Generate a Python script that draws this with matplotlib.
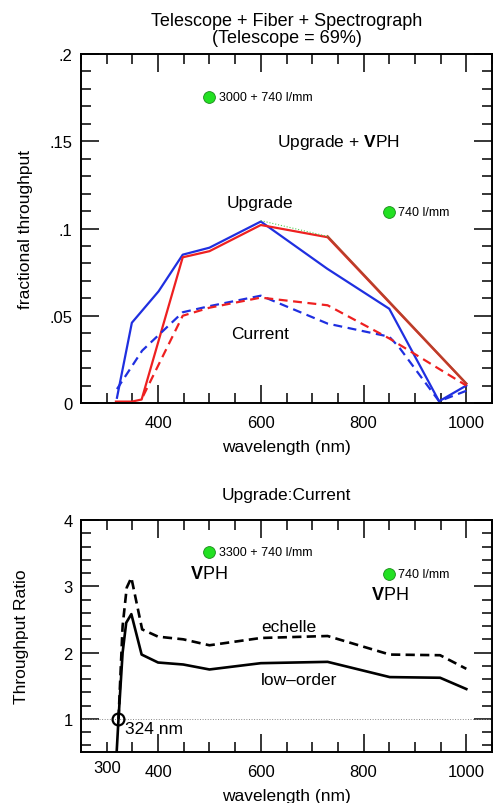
import matplotlib
matplotlib.use('Agg')
import matplotlib.pyplot as plt
from matplotlib.ticker import MultipleLocator, FixedLocator, FuncFormatter

plt.rcParams['font.family'] = ['Liberation Sans', 'DejaVu Sans']
plt.rcParams['mathtext.fontset'] = 'custom'
plt.rcParams['mathtext.rm'] = 'Liberation Sans'
plt.rcParams['mathtext.bf'] = 'Liberation Sans:bold'
for a in ('xtick', 'ytick'):
    plt.rcParams[a + '.direction'] = 'in'
    plt.rcParams[a + '.major.size'] = 13
    plt.rcParams[a + '.minor.size'] = 7
    plt.rcParams[a + '.major.width'] = 1.1
    plt.rcParams[a + '.minor.width'] = 1.1
    plt.rcParams[a + '.color'] = 'black'
    plt.rcParams[a + '.labelsize'] = 12
plt.rcParams['xtick.top'] = True
plt.rcParams['ytick.right'] = True
plt.rcParams['xtick.major.pad'] = 9
plt.rcParams['xtick.minor.pad'] = 6
plt.rcParams['ytick.major.pad'] = 6
plt.rcParams['axes.linewidth'] = 1.4

# Верхняя панель: пропускная способность телескоп + волокно + спектрограф
up_blue_wl = [320, 349, 375, 401, 448, 500, 600, 729, 850, 947, 1000]
up_blue = [0.003, 0.046, 0.055, 0.064, 0.085, 0.089, 0.104, 0.077, 0.054, 0.001, 0.010]

up_red_wl = [318, 349, 368, 448, 500, 600, 730, 1000]
up_red = [0.0008, 0.0008, 0.002, 0.0835, 0.087, 0.102, 0.095, 0.011]

vph_wl = [600, 730, 1000]
vph = [0.1045, 0.0955, 0.0112]

cur_blue_wl = [320, 369, 448, 500, 600, 730, 850, 869, 947, 1000]
cur_blue = [0.008, 0.030, 0.052, 0.0555, 0.0615, 0.0455, 0.038, 0.032, 0.001, 0.007]

cur_red_wl = [371, 448, 500, 600, 730, 850, 1000]
cur_red = [0.004, 0.050, 0.0546, 0.0604, 0.056, 0.037, 0.010]

top_pts_wl = [499, 849]
top_pts = [0.1756, 0.1097]
top_pts_lbl = ['3000 + 740 l/mm', '740 l/mm']

# Нижняя панель: отношение Upgrade:Current
low_wl = [318, 323, 331, 338, 348, 368, 400, 449, 500, 600, 730, 851, 949, 1000]
low = [0.3, 1.0, 2.0, 2.45, 2.58, 1.97, 1.85, 1.82, 1.745, 1.84, 1.86, 1.63, 1.62, 1.45]

ech_wl = [323, 331, 339, 348, 369, 400, 449, 500, 600, 730, 851, 949, 1000]
ech = [1.0, 2.4, 2.98, 3.13, 2.35, 2.24, 2.2, 2.11, 2.22, 2.25, 1.97, 1.96, 1.755]

bot_pts_wl = [499, 849]
bot_pts = [3.51, 3.19]
bot_pts_lbl = ['3300 + 740 l/mm', '740 l/mm']

red = '#ee2020'
blue = '#1f2fe0'
green = '#22e022'

fig = plt.figure(figsize=(4.93, 8.04), dpi=100)
W, H = 493.0, 804.0
ax1 = fig.add_axes([81 / W, 1 - 404 / H, 411 / W, 349 / H])
ax2 = fig.add_axes([81 / W, 1 - 753 / H, 411 / W, 232 / H])

# верхняя панель
ax1.plot(up_blue_wl, up_blue, color=blue, lw=1.6)
ax1.plot(up_red_wl, up_red, color=red, lw=1.6)
ax1.plot(vph_wl[1:], vph[1:], color='#b8402a', lw=1.6)
ax1.plot(vph_wl[:2], vph[:2], color='#55cc55', lw=0.8, ls=':')
ax1.plot(cur_blue_wl, cur_blue, color=blue, lw=1.6, ls=(0, (4, 2.5)))
ax1.plot(cur_red_wl, cur_red, color=red, lw=1.6, ls=(0, (4, 2.5)))
ax1.plot(top_pts_wl, top_pts, 'o', ms=8.5, mfc=green, mec='#1a8a1a', mew=0.6)
for x, y, t in zip(top_pts_wl, top_pts, top_pts_lbl):
    ax1.text(x + 19, y, t, fontsize=9, va='center', ha='left')
ax1.text(750, 0.1496, r'Upgrade + $\mathbf{V}$PH', fontsize=12.5, ha='center', va='center')
ax1.text(599, 0.115, 'Upgrade', fontsize=12.5, ha='center', va='center')
ax1.text(599, 0.040, 'Current', fontsize=12.5, ha='center', va='center')

ax1.set_xlim(250, 1050)
ax1.set_ylim(0, 0.2)
ax1.xaxis.set_major_locator(FixedLocator([400, 600, 800, 1000]))
ax1.xaxis.set_minor_locator(MultipleLocator(50))
ax1.yaxis.set_major_locator(FixedLocator([0, 0.05, 0.1, 0.15, 0.2]))
ax1.set_yticklabels(['0', '.05', '.1', '.15', '.2'])
ax1.yaxis.set_minor_locator(MultipleLocator(0.01))
ax1.set_xlabel('wavelength (nm)', fontsize=12.5, labelpad=6)
ax1.set_ylabel('fractional throughput', fontsize=12.5, labelpad=12)
ax1.set_title('Telescope + Fiber + Spectrograph\n(Telescope = 69%)', fontsize=13,
              linespacing=0.95, pad=9)

# нижняя панель
ax2.axhline(1.0, color='#888888', lw=0.7, ls=':')
ax2.plot(low_wl, low, color='black', lw=1.9)
ax2.plot(ech_wl, ech, color='black', lw=1.9, ls=(0, (3.5, 2)))
ax2.plot([322], [1.0], 'o', ms=8.5, mfc='none', mec='black', mew=1.6)
ax2.text(335, 0.86, '324 nm', fontsize=12.5, ha='left', va='center')
ax2.plot(bot_pts_wl, bot_pts, 'o', ms=8.5, mfc=green, mec='#1a8a1a', mew=0.6)
for x, y, t in zip(bot_pts_wl, bot_pts, bot_pts_lbl):
    ax2.text(x + 19, y, t, fontsize=9, va='center', ha='left')
ax2.text(499, 3.19, r'$\mathbf{V}$PH', fontsize=13, ha='center', va='center')
ax2.text(851, 2.88, r'$\mathbf{V}$PH', fontsize=13, ha='center', va='center')
ax2.text(654, 2.39, 'echelle', fontsize=12.5, ha='center', va='center')
ax2.text(674, 1.59, 'low\u2013order', fontsize=12.5, ha='center', va='center')

ax2.set_xlim(250, 1050)
ax2.set_ylim(0.5, 4)
ax2.xaxis.set_major_locator(FixedLocator([400, 600, 800, 1000]))
ax2.xaxis.set_minor_locator(MultipleLocator(50))
ax2.xaxis.set_minor_formatter(FuncFormatter(lambda v, p: '300' if abs(v - 300) < 1 else ''))
ax2.tick_params(axis='x', which='minor', labelsize=12)
ax2.yaxis.set_major_locator(FixedLocator([1, 2, 3, 4]))
ax2.yaxis.set_minor_locator(MultipleLocator(0.2))
ax2.set_xlabel('wavelength (nm)', fontsize=12.5, labelpad=6)
ax2.set_ylabel('Throughput Ratio', fontsize=12.5, labelpad=25)
ax2.set_title('Upgrade:Current', fontsize=12.5, pad=15)

fig.savefig('out.png', dpi=100)
